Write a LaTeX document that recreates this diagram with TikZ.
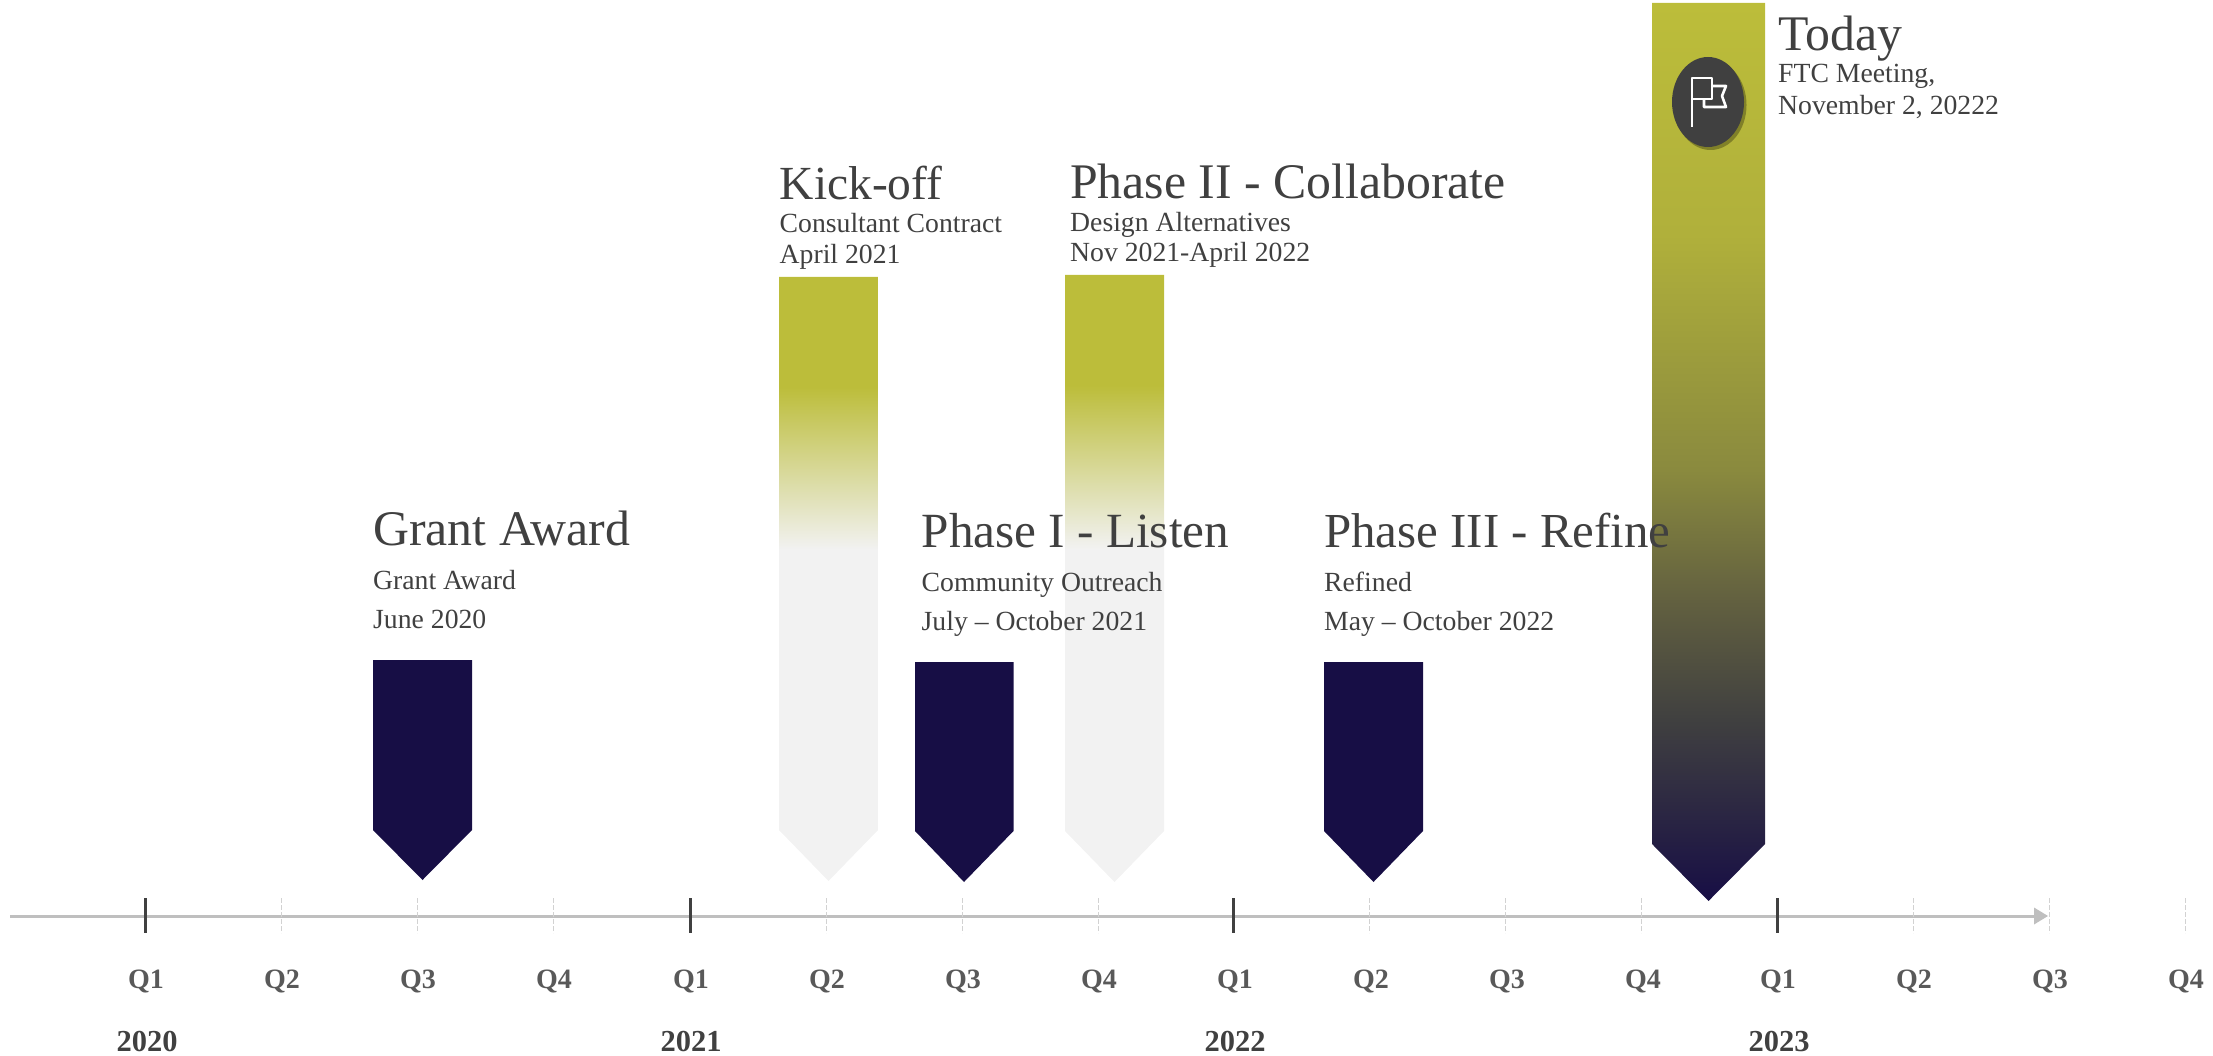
\documentclass[tikz,border=0pt]{standalone}
\usepackage{fontspec}
\setmainfont{Liberation Serif}
\usetikzlibrary{shadows}
\definecolor{olivebar}{HTML}{BCBD3A}
\definecolor{palebar}{HTML}{F2F2F2}
\definecolor{navybar}{HTML}{170E45}
\definecolor{charc}{HTML}{404040}
\definecolor{qgray}{HTML}{595959}
\definecolor{oliveb}{HTML}{B0B03B}
\definecolor{olivec}{HTML}{8A8A3E}
\definecolor{olived}{HTML}{626040}
\pgfdeclareverticalshading{fadebar}{100bp}{color(0bp)=(palebar);color(52.4bp)=(palebar);color(65.9bp)=(olivebar);color(100bp)=(olivebar)}
\pgfdeclareverticalshading{todaybar}{100bp}{color(0bp)=(navybar);color(25bp)=(navybar);color(35.1bp)=(charc);color(41.7bp)=(olived);color(49bp)=(olivec);color(62.1bp)=(oliveb);color(75bp)=(olivebar);color(100bp)=(olivebar)}
\tikzset{
  x=1pt,y=-1pt,
  navyarrow/.style={fill=navybar,draw=none},
  fadearrow/.style={shading=fadebar,draw=none},
  headtext/.style={anchor=base west,inner sep=0pt,text=charc,font=\fontsize{49.8}{52}\selectfont},
  headsmall/.style={headtext,font=\fontsize{49.2}{52}\selectfont},
  subtext/.style={anchor=base west,inner sep=0pt,text=charc,font=\fontsize{27.7}{30}\selectfont},
  qlabel/.style={anchor=base,inner sep=0pt,text=qgray,font=\fontsize{28}{30}\selectfont\bfseries},
  ylabel/.style={anchor=base,inner sep=0pt,text=charc,font=\fontsize{30.5}{32}\selectfont\bfseries},
  majortick/.style={draw=charc,line width=3pt},
  minortick/.style={draw=gray!35,line width=1pt,dash pattern=on 5pt off 2pt},
  axisline/.style={draw=black!25,line width=3pt},
  axishead/.style={fill=black!25,draw=none},
}
\begin{document}
\begin{tikzpicture}
\useasboundingbox (0,0) rectangle (2213,1056);
% axis
\draw[axisline] (10,916) -- (2036,916);
\fill[axishead] (2034,907.5) -- (2048,916) -- (2034,924.5) -- cycle;
% ticks
\foreach \xx in {145.5,690,1233.5,1777.5}{\draw[majortick] (\xx,898) -- (\xx,933);}
\foreach \xx in {281.5,417.5,553.5,826,962,1098,1369.5,1505.5,1641.5,1913,2049,2185}{\draw[minortick] (\xx,898) -- (\xx,933);}
% pale / fading bars
\path[fadearrow] (779,277) -- (878,277) -- (878,830) -- (828.5,881) -- (779,830) -- cycle;
\path[fadearrow] (1065,275) -- (1164,275) -- (1164,831) -- (1114.5,882) -- (1065,831) -- cycle;
% today bar
\path[shading=todaybar,draw=none] (1652,3) -- (1765,3) -- (1765,844) -- (1708.5,901) -- (1652,844) -- cycle;
% navy arrows
\path[navyarrow] (373,660) -- (472,660) -- (472,830) -- (422.5,880) -- (373,830) -- cycle;
\path[navyarrow] (915,662) -- (1013.5,662) -- (1013.5,831) -- (964,882) -- (915,831) -- cycle;
\path[navyarrow] (1324,662) -- (1423,662) -- (1423,831) -- (1373.5,882) -- (1324,831) -- cycle;
% flag badge
\fill[black!55!olivebar,opacity=.55] (1710.5,105) ellipse [x radius=36,y radius=45];
\fill[charc] (1708,102) ellipse [x radius=36,y radius=45];
\draw[white,line width=2.6pt,line join=round] (1692,127) -- (1692,78) -- (1712,78) -- (1712,99) -- (1692,99);
\draw[white,line width=2.6pt,line join=round] (1712,86) -- (1726,86) -- (1722,96) -- (1726,107) -- (1704,107) -- (1704,99);
% event labels
\node[headtext] (granthead) at (373,545) {Grant Award};
\node[subtext] (grantsub) at (373,589) {Grant Award};
\node[subtext] (grantdate) at (373,628.5) {June 2020};
\node[headtext,font=\fontsize{47.5}{50}\selectfont] (kickhead) at (779.5,200) {Kick-off};
\node[subtext] (kicksub) at (779.5,233) {Consultant Contract};
\node[subtext] (kickdate) at (779.5,264) {April 2021};
\node[headsmall] (p1head) at (921.5,547) {Phase I - Listen};
\node[subtext] (p1sub) at (921.5,591) {Community Outreach};
\node[subtext] (p1date) at (921.5,630) {July – October 2021};
\node[headtext] (p2head) at (1070,199) {Phase II - Collaborate};
\node[subtext] (p2sub) at (1070,231.5) {Design Alternatives};
\node[subtext] (p2date) at (1070,261.5) {Nov 2021-April 2022};
\node[headtext,font=\fontsize{48.9}{52}\selectfont] (p3head) at (1324,547) {Phase III - Refine};
\node[subtext] (p3sub) at (1324,591) {Refined};
\node[subtext] (p3date) at (1324,630) {May – October 2022};
\node[headtext] (todayhead) at (1778,51) {Today};
\node[subtext] (todaysub) at (1778,83) {FTC Meeting,};
\node[subtext] (todaydate) at (1778,115) {November 2, 20222};
% quarter labels
\foreach \nm/\xx/\tx in {a/146/Q1,b/282/Q2,c/418/Q3,d/554/Q4,e/691/Q1,f/827/Q2,g/963/Q3,h/1099/Q4,i/1235/Q1,j/1371/Q2,k/1507/Q3,l/1643/Q4,m/1778/Q1,n/1914/Q2,o/2050/Q3,p/2186/Q4}{
  \node[qlabel] (q\nm) at (\xx,988) {\tx};
}
% year labels
\node[ylabel] (y2020) at (147,1051) {2020};
\node[ylabel] (y2021) at (691,1051) {2021};
\node[ylabel] (y2022) at (1235,1051) {2022};
\node[ylabel] (y2023) at (1779,1051) {2023};
\end{tikzpicture}
\end{document}
